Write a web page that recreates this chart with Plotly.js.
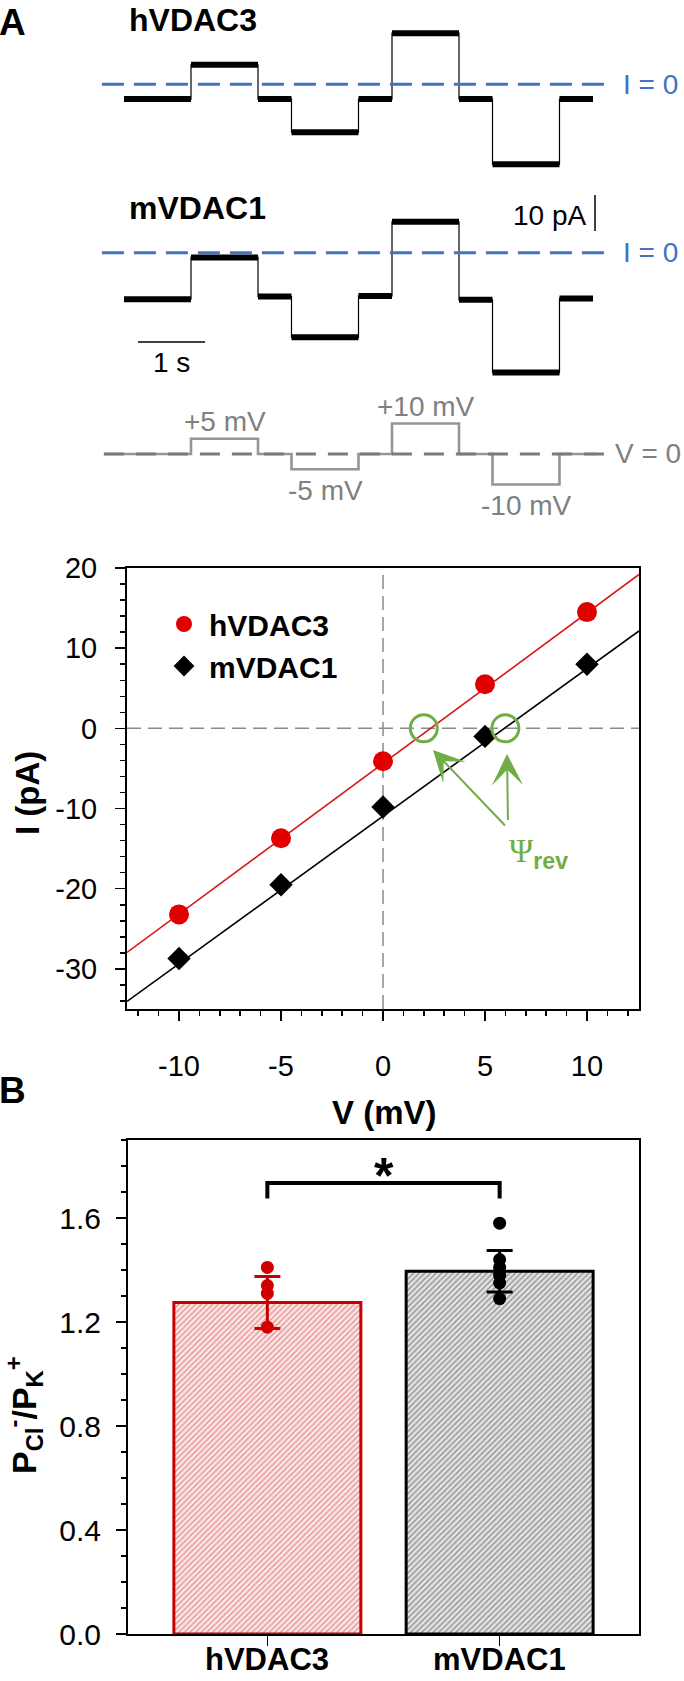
<!DOCTYPE html>
<html><head><meta charset="utf-8">
<script src="https://cdn.plot.ly/plotly-3.0.1.min.js"></script>
<style>html,body{margin:0;padding:0;background:#fff}#chart{width:684px;height:1681px}</style>
</head><body><div id="chart"></div>
<script>
// ================= DATA =================
// Panel A: example current recordings under a voltage-step protocol
const stepTimes      = [0, 1, 2, 2.5, 3.5, 4, 5, 5.5, 6.5, 7];             // s, segment boundaries
const stepVoltages   = [0, 5, 0, -5, 0, 10, 0, -10, 0];                     // mV
const hVDAC3Current  = [-4.1, 5.4, -4.1, -13.3, -4.1, 14.2, -4.1, -22.2, -4.1];    // pA
const mVDAC1Current  = [-12.9, -1.3, -12.2, -23.5, -12.0, 8.6, -13.1, -33.3, -12.7]; // pA
const protocolStart = -0.3, protocolEnd = 7.05;                               // s
const scaleBarCurrent = 10;   // pA
const scaleBarTime = 1;       // s

// IV relationship
const ivVoltage = [-10, -5, 0, 5, 10];                 // mV
const ivHVDAC3  = [-23.2, -13.7, -4.1, 5.5, 14.5];     // pA
const ivMVDAC1  = [-28.7, -19.5, -9.8, -1.0, 8.0];     // pA
const fitVoltage = [-12.55, 12.55];                    // mV
const fitHVDAC3  = [-27.95, 19.2];                     // pA
const fitMVDAC1  = [-34.05, 12.15];                    // pA
const reversalPotentials = [2.0, 6.0];                 // mV
const ivXTicks = [-10, -5, 0, 5, 10];
const ivYTicks = [-30, -20, -10, 0, 10, 20];

// Panel B: permeability ratio
const bCategories = ['hVDAC3', 'mVDAC1'];
const bMeans = [1.275, 1.395];
const bSD = [0.10, 0.08];
const hVDAC3Ratios = [1.41, 1.34, 1.31, 1.18];
const mVDAC1Ratios = [1.58, 1.44, 1.41, 1.38, 1.35, 1.29];
const sigBracket = [1.675, 1.735];
const bYTicks = [0, 0.4, 0.8, 1.2, 1.6];

// ================= LAYOUT HELPERS =================
const W = 684, H = 1681;
const FONT = 'Arial, "Liberation Sans", sans-serif';
const py = p => 1 - p / H;
const px = p => p / W;
const BLUE = '#4472C4', GREEN = '#70AD47';
const RED = '#e00000', DARKRED = '#c80000';

// panel A pixel calibration
const tPix0 = 124, tPixPerS = 67;
const pAPix = 3.6, mVPix = 3.05;
const hZero = 84.3, mZero = 252.7, vZero = 454;

function bandXY(times, levels) {
  const x = [], y = [];
  levels.forEach((v, i) => { x.push(times[i], times[i + 1], null); y.push(v, v, null); });
  return { x, y };
}
const last = a => a[a.length - 1];

const traces = [];
// ---- Panel A traces ----
[[hVDAC3Current, 'y'], [mVDAC1Current, 'y4']].forEach(([lev, ya]) => {
  traces.push({ x: stepTimes, y: lev.concat([last(lev)]), xaxis: 'x', yaxis: ya, mode: 'lines',
    line: { shape: 'hv', width: 1.2, color: '#000' }, showlegend: false, hoverinfo: 'skip' });
  const b = bandXY(stepTimes, lev);
  traces.push({ x: b.x, y: b.y, xaxis: 'x', yaxis: ya, mode: 'lines',
    line: { width: 6, color: '#000' }, showlegend: false, hoverinfo: 'skip' });
});
const protoTimes = [protocolStart].concat(stepTimes.slice(1, -1), [protocolEnd]);
traces.push({ x: protoTimes, y: stepVoltages.concat([last(stepVoltages)]), xaxis: 'x', yaxis: 'y5',
  mode: 'lines', line: { shape: 'hv', width: 2.6, color: '#959595' }, showlegend: false, hoverinfo: 'skip' });

// ---- IV traces ----
traces.push({ x: fitVoltage, y: fitHVDAC3, xaxis: 'x2', yaxis: 'y2', mode: 'lines',
  line: { color: '#d81818', width: 1.6 }, showlegend: false });
traces.push({ x: fitVoltage, y: fitMVDAC1, xaxis: 'x2', yaxis: 'y2', mode: 'lines',
  line: { color: '#000', width: 1.6 }, showlegend: false });
traces.push({ x: ivVoltage, y: ivHVDAC3, xaxis: 'x2', yaxis: 'y2', mode: 'markers', name: 'hVDAC3',
  marker: { symbol: 'circle', size: 20, color: RED } });
traces.push({ x: ivVoltage, y: ivMVDAC1, xaxis: 'x2', yaxis: 'y2', mode: 'markers', name: 'mVDAC1',
  marker: { symbol: 'diamond', size: 18, color: '#000' } });
traces.push({ x: reversalPotentials, y: reversalPotentials.map(() => 0), xaxis: 'x2', yaxis: 'y2',
  mode: 'markers', marker: { symbol: 'circle-open', size: 27, color: GREEN, line: { width: 3, color: GREEN } },
  showlegend: false });

// ---- Panel B traces ----
const barStyles = [
  { line: DARKRED, bg: '#fbe6e6', fg: '#e58a8a', err: DARKRED },
  { line: '#000', bg: '#e2e2e2', fg: '#8a8a8a', err: '#000' }
];
bCategories.forEach((c, i) => {
  traces.push({ type: 'bar', x: [c], y: [bMeans[i]], xaxis: 'x3', yaxis: 'y3', width: 0.805,
    marker: { color: barStyles[i].bg, line: { color: barStyles[i].line, width: 3 },
      pattern: { shape: '/', size: 4, solidity: 0.3, fgcolor: barStyles[i].fg, bgcolor: barStyles[i].bg, fillmode: 'replace' } },
    error_y: { type: 'data', array: [bSD[i]], visible: true, color: barStyles[i].err, thickness: 3, width: 13 },
    showlegend: false });
});
traces.push({ x: hVDAC3Ratios.map(() => bCategories[0]), y: hVDAC3Ratios, xaxis: 'x3', yaxis: 'y3',
  mode: 'markers', marker: { size: 13, color: '#d00000' }, showlegend: false });
traces.push({ x: mVDAC1Ratios.map(() => bCategories[1]), y: mVDAC1Ratios, xaxis: 'x3', yaxis: 'y3',
  mode: 'markers', marker: { size: 13, color: '#000' }, showlegend: false });
traces.push({ x: [bCategories[0], bCategories[0], bCategories[1], bCategories[1]],
  y: [sigBracket[0], sigBracket[1], sigBracket[1], sigBracket[0]], xaxis: 'x3', yaxis: 'y3',
  mode: 'lines', line: { color: '#000', width: 4 }, showlegend: false });

// ================= AXES =================
const hidden = { visible: false, showgrid: false, zeroline: false, fixedrange: true };
const tickFont = { family: FONT, size: 29, color: '#000' };
const boxAxis = { showline: true, linecolor: '#000', linewidth: 2, mirror: true, showgrid: false, zeroline: false,
  ticks: 'outside', ticklen: 10, tickwidth: 1.5, tickcolor: '#000', tickfont: tickFont };
const minorTicks = d => ({ dtick: d, tick0: 0, ticks: 'outside', ticklen: 5, tickwidth: 1.5, tickcolor: '#000' });

const layout = {
  width: W, height: H, margin: { l: 0, r: 0, t: 0, b: 0 },
  paper_bgcolor: '#fff', plot_bgcolor: 'rgba(0,0,0,0)',
  font: { family: FONT, color: '#000' },
  showlegend: true, barmode: 'overlay',
  legend: { x: px(159), y: py(598), xanchor: 'left', yanchor: 'top', itemwidth: 40,
    font: { family: FONT, size: 30, weight: 'bold', color: '#000' }, bgcolor: 'rgba(0,0,0,0)',
    borderwidth: 0, tracegroupgap: 0 },
  xaxis: Object.assign({}, hidden, { domain: [0, 1], range: [-tPix0 / tPixPerS, (W - tPix0) / tPixPerS], anchor: 'y' }),
  yaxis: Object.assign({}, hidden, { domain: [py(180), py(0)], range: [-(180 - hZero) / pAPix, hZero / pAPix], anchor: 'x' }),
  yaxis4: Object.assign({}, hidden, { domain: [py(390), py(180)], range: [-(390 - mZero) / pAPix, (mZero - 180) / pAPix], anchor: 'x' }),
  yaxis5: Object.assign({}, hidden, { domain: [py(530), py(390)], range: [-(530 - vZero) / mVPix, (vZero - 390) / mVPix], anchor: 'x' }),
  xaxis2: Object.assign({}, boxAxis, { domain: [px(127), px(639)], range: [-12.55, 12.55], anchor: 'y2',
    tickmode: 'array', tickvals: ivXTicks, ticktext: ivXTicks.map(String), ticklabelstandoff: 20, minor: minorTicks(1) }),
  yaxis2: Object.assign({}, boxAxis, { domain: [py(1009), py(568)], range: [-35, 20], anchor: 'x2',
    tickmode: 'array', tickvals: ivYTicks, ticktext: ivYTicks.map(String), ticklabelstandoff: 12, minor: minorTicks(2) }),
  xaxis3: Object.assign({}, boxAxis, { domain: [px(128), px(639)], range: [-0.6, 1.6], anchor: 'y3', type: 'category',
    categoryorder: 'array', categoryarray: bCategories, showticklabels: false }),
  yaxis3: Object.assign({}, boxAxis, { domain: [py(1634), py(1140)], range: [0, 1.9], anchor: 'x3',
    tickmode: 'array', tickvals: bYTicks, ticktext: bYTicks.map(v => v.toFixed(1)), ticklabelstandoff: 9,
    tickfont: { family: FONT, size: 30, color: '#000' }, minor: minorTicks(0.1) }),
  shapes: [],
  annotations: []
};

// ---- shapes ----
const S = layout.shapes;
S.push({ type: 'line', xref: 'x', yref: 'y', x0: -0.33, x1: 7.27, y0: 0, y1: 0, line: { color: BLUE, width: 3, dash: '22px,10px' } });
S.push({ type: 'line', xref: 'x', yref: 'y4', x0: -0.33, x1: 7.27, y0: 0, y1: 0, line: { color: BLUE, width: 3, dash: '22px,10px' } });
S.push({ type: 'line', xref: 'x', yref: 'y5', x0: protocolStart, x1: 7.25, y0: 0, y1: 0, line: { color: '#7a7a7a', width: 3, dash: '20px,12px' } });
S.push({ type: 'line', xref: 'x', yref: 'y4', x0: 7.03, x1: 7.03, y0: 6, y1: 6 + scaleBarCurrent, line: { color: '#000', width: 1.5 } });
S.push({ type: 'line', xref: 'x', yref: 'y4', x0: 0.21, x1: 0.21 + scaleBarTime, y0: -24.8, y1: -24.8, line: { color: '#000', width: 1.5 } });
S.push({ type: 'line', xref: 'x2', yref: 'y2 domain', x0: 0, x1: 0, y0: 0, y1: 1, layer: 'below', line: { color: '#8a8a8a', width: 1.5, dash: '14px,7px' } });
S.push({ type: 'line', xref: 'x2 domain', yref: 'y2', x0: 0, x1: 1, y0: 0, y1: 0, layer: 'below', line: { color: '#8a8a8a', width: 1.5, dash: '14px,7px' } });

// ---- annotations ----
const A = layout.annotations;
const txt = (o) => A.push(Object.assign({ showarrow: false, xanchor: 'center', yanchor: 'middle' }, o));
const f = (size, color, bold) => ({ family: FONT, size: size, color: color || '#000', weight: bold ? 'bold' : 'normal' });

txt({ text: 'A', xref: 'paper', yref: 'paper', x: px(-3), y: 1, xanchor: 'left', yanchor: 'top', font: f(37, '#000', true) });
txt({ text: 'B', xref: 'paper', yref: 'paper', x: px(-3), y: py(1090), xanchor: 'left', font: f(37, '#000', true) });
txt({ text: 'hVDAC3', xref: 'paper', yref: 'paper', x: px(127), y: 1, xanchor: 'left', yanchor: 'top', font: f(32, '#000', true) });
txt({ text: 'mVDAC1', xref: 'paper', yref: 'paper', x: px(127), y: py(208), xanchor: 'left', font: f(32, '#000', true) });
txt({ text: 'I = 0', xref: 'x', yref: 'y', x: 7.42, y: 0, xanchor: 'left', font: f(28, BLUE) });
txt({ text: 'I = 0', xref: 'x', yref: 'y4', x: 7.42, y: 0, xanchor: 'left', font: f(28, BLUE) });
txt({ text: 'V = 0', xref: 'x', yref: 'y5', x: 7.3, y: 0, xanchor: 'left', font: f(28, '#808080') });
txt({ text: scaleBarCurrent + ' pA', xref: 'x', yref: 'y4', x: 6.92, y: 6 + scaleBarCurrent / 2 - 0.8, xanchor: 'right', font: f(28) });
txt({ text: scaleBarTime + ' s', xref: 'x', yref: 'y4', x: 0.21 + scaleBarTime / 2, y: -24.8, yshift: -21, font: f(28) });
stepVoltages.forEach((v, i) => {
  if (v === 0) return;
  txt({ text: (v > 0 ? '+' : '') + v + ' mV', xref: 'x', yref: 'y5', x: (stepTimes[i] + stepTimes[i + 1]) / 2, y: v,
    yshift: v > 0 ? 17 : -21, font: f(28, '#808080') });
});

// IV annotations
txt({ text: 'V (mV)', xref: 'paper', yref: 'paper', x: px(384), y: py(1112), font: f(33, '#000', true) });
txt({ text: 'I (pA)', xref: 'paper', yref: 'paper', x: px(27), y: py(793), textangle: -90, font: f(33, '#000', true) });
[[2.45, -2.7], [6.08, -3.2]].forEach(([x, y]) => {
  A.push({ text: ' ', xref: 'x2', yref: 'y2', x: x, y: y, axref: 'x2', ayref: 'y2', ax: 6.13, ay: -12.5,
    showarrow: true, arrowhead: 3, arrowsize: 2.6, arrowwidth: 2, arrowcolor: GREEN, standoff: 0 });
});
txt({ text: '<span style="font-family:\'Liberation Serif\',\'Times New Roman\',serif;font-weight:normal">Ψ</span><sub>rev</sub>',
  xref: 'x2', yref: 'y2', x: 7.6, y: -15.6, font: f(33, GREEN, true) });

// B annotations
txt({ text: '*', xref: 'x3', yref: 'y3', x: 0.5, y: 1.76, font: f(50, '#000', true) });
txt({ text: 'P<sub>Cl</sub><sup>-</sup>/P<sub>K</sub><sup>+</sup>', xref: 'paper', yref: 'paper', x: px(24), y: py(1415),
  textangle: -90, font: f(34, '#000', true) });
bCategories.forEach((c, i) => {
  txt({ text: c, xref: 'x3', yref: 'paper', x: i, y: py(1679), yanchor: 'bottom', font: f(31, '#000', true) });
});

Plotly.newPlot('chart', traces, layout, { staticPlot: true, displayModeBar: false });
</script>
</body></html>
